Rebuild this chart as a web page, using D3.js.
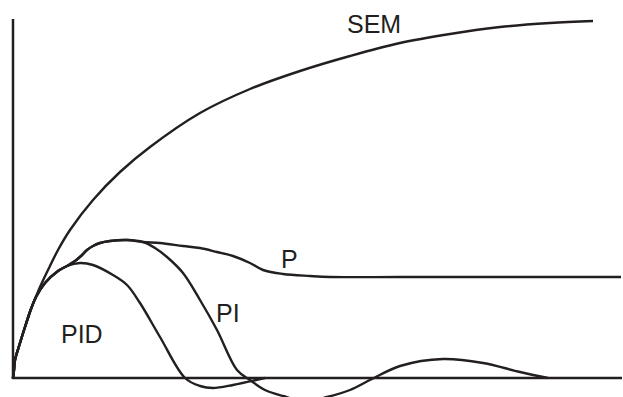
<!DOCTYPE html>
<html>
<head>
<meta charset="utf-8">
<script src="https://cdn.jsdelivr.net/npm/d3@7"></script>
<style>
  body { margin: 0; background: #fff; }
  svg { display: block; }
</style>
</head>
<body>
<script>
// time (t) and response (v)
let semT = [0, 0.1, 0.2, 0.7, 1.2, 1.8, 2.2, 2.7, 3.5, 4.5, 5.7, 8, 10.7, 13.7, 18.7, 23.7, 28.7, 33.7, 38.7, 43.7, 48.7, 53.7, 58];
let semV = [0, 0.8, 1.8, 3.5, 5.1, 6.9, 7.9, 9.1, 10.8, 12.8, 14.8, 17.8, 20.6, 23.1, 26.5, 28.9, 30.7, 32.2, 33.5, 34.4, 35.1, 35.5, 35.7];

let pT = [0, 0.1, 0.2, 0.7, 1.2, 1.8, 2.3, 3.2, 4.5, 5.4, 6.2, 6.8, 7.4, 8, 8.7, 9.7, 11.4, 13, 14.7, 17, 18.7, 20.4, 22, 23.7, 25, 27, 29.7, 31.7, 38.7, 48.7, 60.8];
let pV = [0, 0.8, 1.8, 3.5, 5.1, 6.9, 8.1, 9.5, 10.7, 11.2, 11.7, 12.2, 12.8, 13.2, 13.5, 13.7, 13.8, 13.6, 13.5, 13.2, 13, 12.6, 12.2, 11.5, 10.8, 10.4, 10.2, 10.1, 10.1, 10.1, 10.1];

let piT = [0, 0.1, 0.2, 0.7, 1.2, 1.8, 2.3, 3.2, 4.5, 5.4, 6.2, 6.8, 7.4, 8, 8.7, 9.7, 11.4, 13, 14.2, 15.4, 17, 18.7, 20.4, 22.4, 23.7, 25.2, 27, 29.2, 31.4, 33.7, 35.9, 38.7, 43, 47, 50.7, 53.5];
let piV = [0, 0.8, 1.8, 3.5, 5.1, 6.9, 8.1, 9.5, 10.7, 11.2, 11.7, 12.2, 12.8, 13.2, 13.5, 13.7, 13.8, 13.6, 13, 12.1, 10.5, 7.8, 4.8, 0.8, -0.2, -1.2, -1.8, -2.3, -1.9, -1.2, -0.1, 1.2, 1.9, 1.5, 0.6, 0];

let pidT = [0, 0.1, 0.2, 0.7, 1.2, 1.8, 2.3, 3.2, 4.5, 5.4, 6.7, 8, 10, 11.4, 12.7, 14.7, 17.2, 18.7, 20, 22, 25.2];
let pidV = [0, 0.8, 1.8, 3.5, 5.1, 6.9, 8.1, 9.5, 10.7, 11.2, 11.5, 11.3, 10.3, 9.3, 7.5, 4.1, 0, -0.8, -1, -0.7, 0];

let labels = ["SEM", "P", "PI", "PID"];
let labelT = [33.4, 26.8, 20.3, 4.8];
let labelV = [34.5, 11, 5.6, 3.5];

function main() {
    let width = 623;
    let height = 397;
    let ink = "#231f20";

    let svg = d3.select("body").append("svg")
        .attr("width", width)
        .attr("height", height);

    let xScale = d3.scaleLinear().domain([0, 61]).range([13, 623]);
    let yScale = d3.scaleLinear().domain([0, 35.9]).range([378, 19]);

    // axes: plain lines, no ticks
    svg.append("line")
        .attr("x1", xScale(0)).attr("x2", xScale(0))
        .attr("y1", yScale(0) + 1).attr("y2", yScale(35.9))
        .attr("stroke", ink).attr("stroke-width", 2.5);
    svg.append("line")
        .attr("x1", xScale(0) - 1.2).attr("x2", xScale(60.9))
        .attr("y1", yScale(0)).attr("y2", yScale(0))
        .attr("stroke", ink).attr("stroke-width", 2.5);

    let line = d3.line()
        .x(d => xScale(d[0]))
        .y(d => yScale(d[1]))
        .curve(d3.curveCatmullRom.alpha(0.5));

    let series = [
        d3.zip(semT, semV),
        d3.zip(pT, pV),
        d3.zip(piT, piV),
        d3.zip(pidT, pidV)
    ];

    svg.append("g")
        .selectAll("path")
        .data(series)
        .enter()
        .append("path")
        .attr("d", line)
        .attr("fill", "none")
        .attr("stroke", ink)
        .attr("stroke-width", 2.4)
        .attr("stroke-linejoin", "round");

    svg.append("g")
        .attr("font-family", "'Liberation Sans', Arial, sans-serif")
        .attr("font-size", 25)
        .attr("fill", ink)
        .selectAll("text")
        .data(labels)
        .enter()
        .append("text")
        .attr("x", (d, i) => xScale(labelT[i]))
        .attr("y", (d, i) => yScale(labelV[i]))
        .text(d => d);
}

main();
</script>
</body>
</html>
